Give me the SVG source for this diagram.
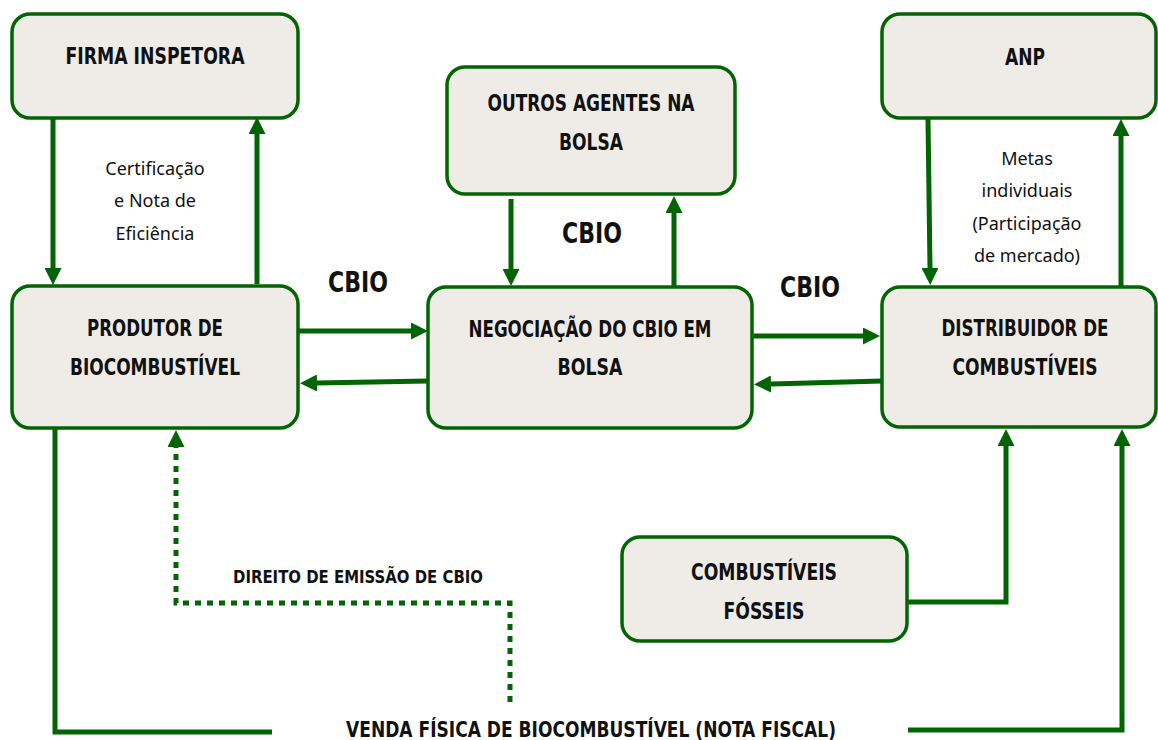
<svg xmlns="http://www.w3.org/2000/svg" width="1158" height="740" viewBox="0 0 1158 740">
<style>
.box{fill:#efece7;stroke:#036403;stroke-width:3.5}
.t{font-family:"Liberation Sans Narrow","DejaVu Sans Condensed","Liberation Sans",sans-serif;font-weight:bold;fill:#111;text-anchor:middle;font-size:23px}
.c{font-family:"Liberation Sans Narrow","DejaVu Sans Condensed","Liberation Sans",sans-serif;font-weight:bold;fill:#111;text-anchor:middle;font-size:29px}
.s{font-family:"Noto Sans","Open Sans",sans-serif;fill:#111;text-anchor:middle;font-size:18px}
.ln{fill:none;stroke:#036403;stroke-width:5}
.dot{fill:none;stroke:#036403;stroke-width:5;stroke-dasharray:6 6}
</style>
<defs>
<marker id="ah" markerUnits="userSpaceOnUse" viewBox="0 0 10 10" refX="0" refY="5" markerWidth="17" markerHeight="17" orient="auto">
<path d="M0,0 L10,5 L0,10 z" fill="#036403"/>
</marker>
</defs>
<rect width="1158" height="740" fill="#ffffff"/>
<g id="nodes">
<g id="firma"><rect class="box" x="12" y="14" width="286" height="104" rx="18"/><text class="t" x="155" y="64" textLength="179" lengthAdjust="spacingAndGlyphs">FIRMA INSPETORA</text></g>
<g id="anp"><rect class="box" x="882" y="14" width="274" height="104" rx="18"/><text class="t" x="1025" y="65" textLength="40" lengthAdjust="spacingAndGlyphs">ANP</text></g>
<g id="outros"><rect class="box" x="447" y="67" width="288" height="127" rx="18"/><text class="t" x="591" y="111" textLength="207" lengthAdjust="spacingAndGlyphs">OUTROS AGENTES NA</text><text class="t" x="591" y="150" textLength="64" lengthAdjust="spacingAndGlyphs">BOLSA</text></g>
<g id="produtor"><rect class="box" x="12" y="286" width="286" height="142" rx="18"/><text class="t" x="155" y="336" textLength="136" lengthAdjust="spacingAndGlyphs">PRODUTOR DE</text><text class="t" x="155" y="375" textLength="170" lengthAdjust="spacingAndGlyphs">BIOCOMBUSTÍVEL</text></g>
<g id="negociacao"><rect class="box" x="428" y="287" width="324" height="141" rx="18"/><text class="t" x="590" y="337" textLength="243" lengthAdjust="spacingAndGlyphs">NEGOCIAÇÃO DO CBIO EM</text><text class="t" x="590" y="375" textLength="65" lengthAdjust="spacingAndGlyphs">BOLSA</text></g>
<g id="distribuidor"><rect class="box" x="882" y="287" width="274" height="140" rx="18"/><text class="t" x="1025" y="336" textLength="167" lengthAdjust="spacingAndGlyphs">DISTRIBUIDOR DE</text><text class="t" x="1025" y="375" textLength="145" lengthAdjust="spacingAndGlyphs">COMBUSTÍVEIS</text></g>
<g id="fosseis"><rect class="box" x="622" y="537" width="285" height="104" rx="18"/><text class="t" x="764" y="580" textLength="146" lengthAdjust="spacingAndGlyphs">COMBUSTÍVEIS</text><text class="t" x="764" y="619" textLength="81" lengthAdjust="spacingAndGlyphs">FÓSSEIS</text></g>
</g>
<g id="connectors">
<path class="ln" d="M53,118 L53,268" marker-end="url(#ah)"/>
<path class="ln" d="M257,284 L257,134" marker-end="url(#ah)"/>
<path class="ln" d="M298,331 L411,331" marker-end="url(#ah)"/>
<path class="ln" d="M428,381 L317,383" marker-end="url(#ah)"/>
<path class="ln" d="M752,336 L863,336" marker-end="url(#ah)"/>
<path class="ln" d="M882,381 L771,384" marker-end="url(#ah)"/>
<path class="ln" d="M511,199 L511,269" marker-end="url(#ah)"/>
<path class="ln" d="M674,286 L674,213" marker-end="url(#ah)"/>
<path class="ln" d="M928,119 L930,268" marker-end="url(#ah)"/>
<path class="ln" d="M1121,286 L1121,136" marker-end="url(#ah)"/>
<path class="ln" d="M908,602 L1006,602 L1006,446" marker-end="url(#ah)"/>
<path class="ln" d="M908,730 L1122,730 L1122,446" marker-end="url(#ah)"/>
<path class="ln" d="M55,428 L55,732 L272,732"/>
<path class="dot" d="M510,702 L510,603 L176,603 L176,447" marker-end="url(#ah)"/>
</g>
<g id="labels">
<text class="s" x="155" y="175">Certificação</text>
<text class="s" x="155" y="207">e Nota de</text>
<text class="s" x="155" y="240">Eficiência</text>
<text class="s" x="1027" y="165">Metas</text>
<text class="s" x="1027" y="197">individuais</text>
<text class="s" x="1027" y="230">(Participação</text>
<text class="s" x="1027" y="262">de mercado)</text>
<text class="c" x="358" y="292" textLength="60" lengthAdjust="spacingAndGlyphs">CBIO</text>
<text class="c" x="592" y="243" textLength="60" lengthAdjust="spacingAndGlyphs">CBIO</text>
<text class="c" x="810" y="297" textLength="60" lengthAdjust="spacingAndGlyphs">CBIO</text>
<text class="t" x="358" y="583" style="font-size:18.5px" textLength="250" lengthAdjust="spacingAndGlyphs">DIREITO DE EMISSÃO DE CBIO</text>
<text class="t" x="591" y="737" style="font-size:22px" textLength="490" lengthAdjust="spacingAndGlyphs">VENDA FÍSICA DE BIOCOMBUSTÍVEL (NOTA FISCAL)</text>
</g>
</svg>
